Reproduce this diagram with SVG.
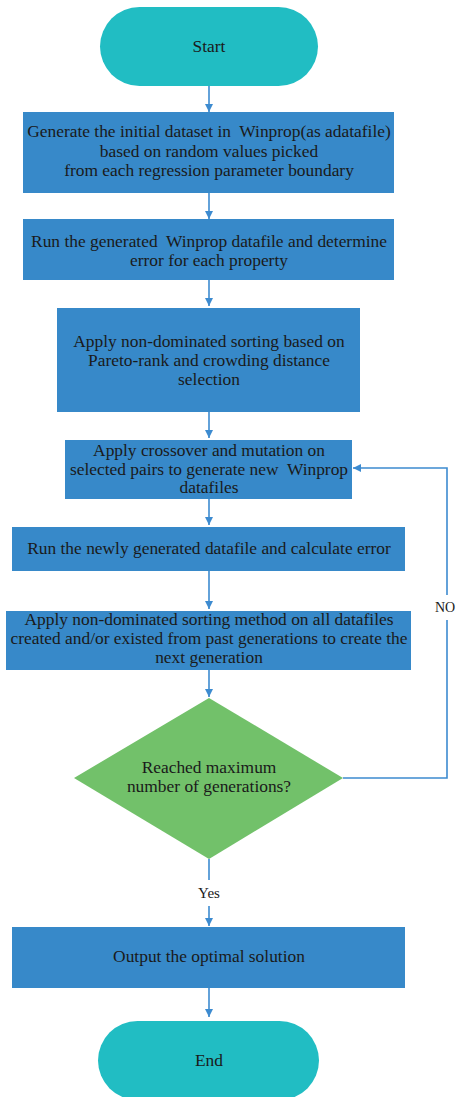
<svg xmlns="http://www.w3.org/2000/svg" width="456" height="1097" viewBox="0 0 456 1097">
<style>
.term{fill:#21BDC3}
.box{fill:#3789C9}
.dec{fill:#72C16A}
.t{font-family:"Liberation Serif","Times New Roman",serif;font-size:17.4px;fill:#1a1a1a;text-anchor:middle}
.lbl{font-family:"Liberation Serif","Times New Roman",serif;font-size:15px;fill:#1a1a1a;text-anchor:middle}
.c{stroke:#3D8BD0;stroke-width:1.6;fill:none}
</style>
<defs>
<marker id="ah" viewBox="0 0 10 10" refX="10" refY="5" markerWidth="8" markerHeight="8" markerUnits="userSpaceOnUse" orient="auto">
<path d="M0,0 L10,5 L0,10 z" fill="#3D8BD0"/>
</marker>
</defs>
<rect width="456" height="1097" fill="#ffffff"/>
<g id="connectors">
<line class="c" x1="209" y1="86" x2="209" y2="112" marker-end="url(#ah)"/>
<line class="c" x1="209" y1="193" x2="209" y2="219" marker-end="url(#ah)"/>
<line class="c" x1="209" y1="280" x2="209" y2="306" marker-end="url(#ah)"/>
<line class="c" x1="209" y1="412" x2="209" y2="438" marker-end="url(#ah)"/>
<line class="c" x1="209" y1="499" x2="209" y2="525" marker-end="url(#ah)"/>
<line class="c" x1="209" y1="571" x2="209" y2="609" marker-end="url(#ah)"/>
<line class="c" x1="209" y1="670" x2="209" y2="697" marker-end="url(#ah)"/>
<polyline class="c" points="343,778 447,778 447,620"/>
<polyline class="c" points="447,595 447,468 353,468" marker-end="url(#ah)"/>
<line class="c" x1="209" y1="859" x2="209" y2="880"/>
<line class="c" x1="209" y1="906" x2="209" y2="926" marker-end="url(#ah)"/>
<line class="c" x1="209" y1="988" x2="209" y2="1017" marker-end="url(#ah)"/>
<text class="lbl" x="209" y="898">Yes</text>
<text class="lbl" x="435" y="612" style="text-anchor:start;font-size:14px">NO</text>
</g>
<g id="start">
<rect class="term" x="100" y="7" width="218" height="79" rx="39.5"/>
<text class="t" x="209" y="52">Start</text>
</g>
<g id="init">
<rect class="box" x="23" y="112" width="371" height="81"/>
<text class="t" x="209" y="137" xml:space="preserve">Generate the initial dataset in  Winprop(as adatafile)</text>
<text class="t" x="209" y="157">based on random values picked</text>
<text class="t" x="209" y="176">from each regression parameter boundary</text>
</g>
<g id="run1">
<rect class="box" x="23" y="219" width="371" height="61"/>
<text class="t" x="209" y="247" xml:space="preserve">Run the generated  Winprop datafile and determine</text>
<text class="t" x="209" y="266">error for each property</text>
</g>
<g id="sort1">
<rect class="box" x="57" y="308" width="303" height="104"/>
<text class="t" x="209" y="347">Apply non-dominated sorting based on</text>
<text class="t" x="209" y="366">Pareto-rank and crowding distance</text>
<text class="t" x="209" y="385">selection</text>
</g>
<g id="crossover">
<rect class="box" x="65" y="440" width="287" height="59"/>
<text class="t" x="209" y="456">Apply crossover and mutation on</text>
<text class="t" x="209" y="475" xml:space="preserve">selected pairs to generate new  Winprop</text>
<text class="t" x="209" y="493">datafiles</text>
</g>
<g id="run2">
<rect class="box" x="12" y="527" width="393" height="44"/>
<text class="t" x="209" y="554">Run the newly generated datafile and calculate error</text>
</g>
<g id="sort2">
<rect class="box" x="6" y="611" width="405" height="59"/>
<text class="t" x="209" y="625">Apply non-dominated sorting method on all datafiles</text>
<text class="t" x="209" y="644">created and/or existed from past generations to create the</text>
<text class="t" x="209" y="663">next generation</text>
</g>
<g id="decision">
<polygon class="dec" points="209,698 343,778 209,859 74,778"/>
<text class="t" x="209" y="773">Reached maximum</text>
<text class="t" x="209" y="792">number of generations?</text>
</g>
<g id="output">
<rect class="box" x="12" y="927" width="393" height="61"/>
<text class="t" x="209" y="962">Output the optimal solution</text>
</g>
<g id="end">
<rect class="term" x="98" y="1021" width="221" height="79" rx="39.5"/>
<text class="t" x="209" y="1066">End</text>
</g>
</svg>
